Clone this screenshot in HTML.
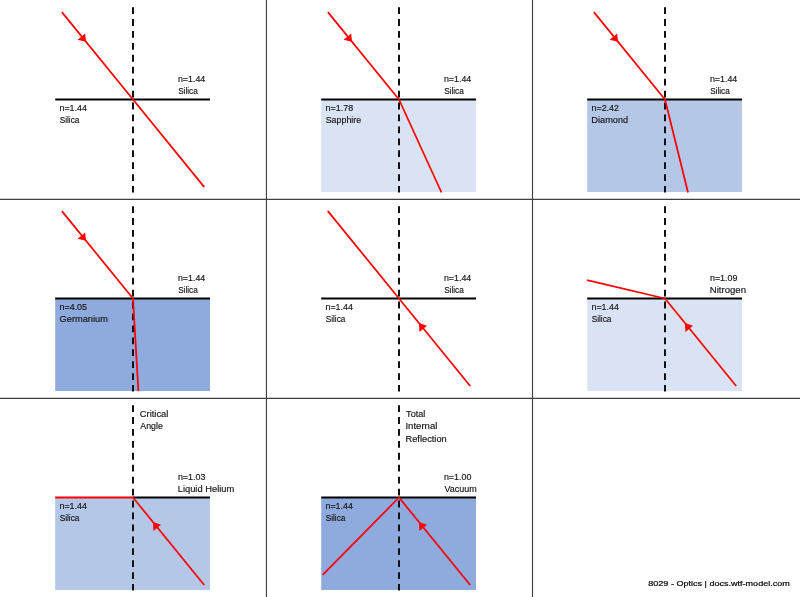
<!DOCTYPE html>
<html lang="en"><head><meta charset="utf-8"><title>Optics - Refraction</title>
<style>html,body{margin:0;padding:0;background:#fff;}body{width:800px;height:597px;overflow:hidden;font-family:"Liberation Sans",sans-serif;}svg{display:block;will-change:transform;}text{font-family:"Liberation Sans",sans-serif;fill:#141414;stroke:#141414;stroke-width:0.16;}</style>
</head><body>
<svg width="800" height="597" viewBox="0 0 800 597">
<rect x="0" y="0" width="800" height="597" fill="#ffffff"/>
<g stroke="#404040" stroke-width="1.15" fill="none">
<line x1="266.45" y1="0" x2="266.45" y2="597"/>
<line x1="532.5" y1="0" x2="532.5" y2="597"/>
<line x1="0" y1="199.4" x2="800" y2="199.4"/>
<line x1="0" y1="398.3" x2="800" y2="398.3"/>
</g>
<g><!-- panel c0 r0 -->
<text x="177.92" y="82.3" font-size="9.1" textLength="27.35" lengthAdjust="spacingAndGlyphs">n=1.44</text>
<text x="178.13" y="94.3" font-size="9.1" textLength="19.66" lengthAdjust="spacingAndGlyphs">Silica</text>
<text x="59.52" y="111.1" font-size="9.1" textLength="27.35" lengthAdjust="spacingAndGlyphs">n=1.44</text>
<text x="59.73" y="123.1" font-size="9.1" textLength="19.66" lengthAdjust="spacingAndGlyphs">Silica</text>
<line x1="133" y1="7.15" x2="133" y2="192.6" stroke="#111111" stroke-width="2" stroke-dasharray="6.8 5.13"/>
<line x1="55.2" y1="99.5" x2="210" y2="99.5" stroke="#000000" stroke-width="1.9"/>
<polyline points="61.9,12.1 133,99.5 204.3,187.1" fill="none" stroke="#ff0000" stroke-width="1.75" stroke-linejoin="round"/>
<polygon points="85.99,41.71 77.6,39.64 85.2,33.45" fill="#ff0000"/>
</g>
<g><!-- panel c1 r0 -->
<rect x="321.2" y="99.5" width="154.8" height="92.5" fill="#dae3f3"/>
<text x="443.92" y="82.3" font-size="9.1" textLength="27.35" lengthAdjust="spacingAndGlyphs">n=1.44</text>
<text x="444.13" y="94.3" font-size="9.1" textLength="19.66" lengthAdjust="spacingAndGlyphs">Silica</text>
<text x="325.51" y="111.1" font-size="9.1" textLength="27.68" lengthAdjust="spacingAndGlyphs">n=1.78</text>
<text x="325.7" y="123.1" font-size="9.1" textLength="35.49" lengthAdjust="spacingAndGlyphs">Sapphire</text>
<line x1="399" y1="7.15" x2="399" y2="192.6" stroke="#111111" stroke-width="2" stroke-dasharray="6.8 5.13"/>
<line x1="321.2" y1="99.5" x2="476" y2="99.5" stroke="#000000" stroke-width="1.9"/>
<polyline points="327.9,12.1 399,99.5 441.5,192.5" fill="none" stroke="#ff0000" stroke-width="1.75" stroke-linejoin="round"/>
<polygon points="351.99,41.71 343.6,39.64 351.2,33.45" fill="#ff0000"/>
</g>
<g><!-- panel c2 r0 -->
<rect x="587.2" y="99.5" width="154.8" height="92.5" fill="#b4c7e7"/>
<text x="709.92" y="82.3" font-size="9.1" textLength="27.35" lengthAdjust="spacingAndGlyphs">n=1.44</text>
<text x="710.13" y="94.3" font-size="9.1" textLength="19.66" lengthAdjust="spacingAndGlyphs">Silica</text>
<text x="591.51" y="111.1" font-size="9.1" textLength="27.43" lengthAdjust="spacingAndGlyphs">n=2.42</text>
<text x="591.35" y="123.1" font-size="9.1" textLength="36.84" lengthAdjust="spacingAndGlyphs">Diamond</text>
<line x1="665" y1="7.15" x2="665" y2="192.6" stroke="#111111" stroke-width="2" stroke-dasharray="6.8 5.13"/>
<line x1="587.2" y1="99.5" x2="742" y2="99.5" stroke="#000000" stroke-width="1.9"/>
<polyline points="593.9,12.1 665,99.5 688,192.5" fill="none" stroke="#ff0000" stroke-width="1.75" stroke-linejoin="round"/>
<polygon points="617.99,41.71 609.6,39.64 617.2,33.45" fill="#ff0000"/>
</g>
<g><!-- panel c0 r1 -->
<rect x="55.2" y="298.5" width="154.8" height="92.5" fill="#8faadc"/>
<text x="177.92" y="281.3" font-size="9.1" textLength="27.35" lengthAdjust="spacingAndGlyphs">n=1.44</text>
<text x="178.13" y="293.3" font-size="9.1" textLength="19.66" lengthAdjust="spacingAndGlyphs">Silica</text>
<text x="59.51" y="310.1" font-size="9.1" textLength="27.56" lengthAdjust="spacingAndGlyphs">n=4.05</text>
<text x="59.64" y="322.1" font-size="9.1" textLength="48.26" lengthAdjust="spacingAndGlyphs">Germanium</text>
<line x1="133" y1="206.15" x2="133" y2="391.6" stroke="#111111" stroke-width="2" stroke-dasharray="6.8 5.13"/>
<line x1="55.2" y1="298.5" x2="210" y2="298.5" stroke="#000000" stroke-width="1.9"/>
<polyline points="61.9,211.1 133,298.5 138.4,391.3" fill="none" stroke="#ff0000" stroke-width="1.75" stroke-linejoin="round"/>
<polygon points="85.99,240.71 77.6,238.64 85.2,232.45" fill="#ff0000"/>
</g>
<g><!-- panel c1 r1 -->
<text x="443.92" y="281.3" font-size="9.1" textLength="27.35" lengthAdjust="spacingAndGlyphs">n=1.44</text>
<text x="444.13" y="293.3" font-size="9.1" textLength="19.66" lengthAdjust="spacingAndGlyphs">Silica</text>
<text x="325.52" y="310.1" font-size="9.1" textLength="27.35" lengthAdjust="spacingAndGlyphs">n=1.44</text>
<text x="325.73" y="322.1" font-size="9.1" textLength="19.66" lengthAdjust="spacingAndGlyphs">Silica</text>
<line x1="399" y1="206.15" x2="399" y2="391.6" stroke="#111111" stroke-width="2" stroke-dasharray="6.8 5.13"/>
<line x1="321.2" y1="298.5" x2="476" y2="298.5" stroke="#000000" stroke-width="1.9"/>
<polyline points="470.2,386 399,298.5 327.7,210.9" fill="none" stroke="#ff0000" stroke-width="1.75" stroke-linejoin="round"/>
<polygon points="418.94,323.01 419.45,331.88 427.05,325.7" fill="#ff0000"/>
</g>
<g><!-- panel c2 r1 -->
<rect x="587.2" y="298.5" width="154.8" height="92.5" fill="#dae3f3"/>
<text x="709.91" y="281.3" font-size="9.1" textLength="27.61" lengthAdjust="spacingAndGlyphs">n=1.09</text>
<text x="709.71" y="293.3" font-size="9.1" textLength="36.3" lengthAdjust="spacingAndGlyphs">Nitrogen</text>
<text x="591.52" y="310.1" font-size="9.1" textLength="27.35" lengthAdjust="spacingAndGlyphs">n=1.44</text>
<text x="591.73" y="322.1" font-size="9.1" textLength="19.66" lengthAdjust="spacingAndGlyphs">Silica</text>
<line x1="665" y1="206.15" x2="665" y2="391.6" stroke="#111111" stroke-width="2" stroke-dasharray="6.8 5.13"/>
<line x1="587.2" y1="298.5" x2="742" y2="298.5" stroke="#000000" stroke-width="1.9"/>
<polyline points="736.2,386 665,298.5 587.1,280.2" fill="none" stroke="#ff0000" stroke-width="1.75" stroke-linejoin="round"/>
<polygon points="684.94,323.01 685.45,331.88 693.05,325.7" fill="#ff0000"/>
</g>
<g><!-- panel c0 r2 -->
<rect x="55.2" y="497.5" width="154.8" height="92.5" fill="#b4c7e7"/>
<text x="177.91" y="480.3" font-size="9.1" textLength="27.47" lengthAdjust="spacingAndGlyphs">n=1.03</text>
<text x="177.73" y="492.3" font-size="9.1" textLength="56.57" lengthAdjust="spacingAndGlyphs">Liquid Helium</text>
<text x="59.52" y="509.1" font-size="9.1" textLength="27.35" lengthAdjust="spacingAndGlyphs">n=1.44</text>
<text x="59.73" y="521.1" font-size="9.1" textLength="19.66" lengthAdjust="spacingAndGlyphs">Silica</text>
<text x="139.83" y="417.1" font-size="9.1" textLength="28.58" lengthAdjust="spacingAndGlyphs">Critical</text>
<text x="140.28" y="429.3" font-size="9.1" textLength="22.51" lengthAdjust="spacingAndGlyphs">Angle</text>
<line x1="133" y1="405.15" x2="133" y2="590.6" stroke="#111111" stroke-width="2" stroke-dasharray="6.8 5.13"/>
<line x1="133" y1="497.5" x2="210" y2="497.5" stroke="#000000" stroke-width="1.9"/>
<line x1="55.2" y1="497.5" x2="133.5" y2="497.5" stroke="#ff0000" stroke-width="1.95"/>
<polyline points="204.2,585 133,497.5" fill="none" stroke="#ff0000" stroke-width="1.75" stroke-linejoin="round"/>
<polygon points="152.94,522.01 153.45,530.88 161.05,524.7" fill="#ff0000"/>
</g>
<g><!-- panel c1 r2 -->
<rect x="321.2" y="497.5" width="154.8" height="92.5" fill="#8faadc"/>
<text x="443.91" y="480.3" font-size="9.1" textLength="27.53" lengthAdjust="spacingAndGlyphs">n=1.00</text>
<text x="444.46" y="492.3" font-size="9.1" textLength="32.32" lengthAdjust="spacingAndGlyphs">Vacuum</text>
<text x="325.52" y="509.1" font-size="9.1" textLength="27.35" lengthAdjust="spacingAndGlyphs">n=1.44</text>
<text x="325.73" y="521.1" font-size="9.1" textLength="19.66" lengthAdjust="spacingAndGlyphs">Silica</text>
<text x="406.1" y="417.1" font-size="9.1" textLength="19.2" lengthAdjust="spacingAndGlyphs">Total</text>
<text x="405.42" y="429.3" font-size="9.1" textLength="32.02" lengthAdjust="spacingAndGlyphs">Internal</text>
<text x="405.54" y="441.5" font-size="9.1" textLength="41.15" lengthAdjust="spacingAndGlyphs">Reflection</text>
<line x1="399" y1="405.15" x2="399" y2="590.6" stroke="#111111" stroke-width="2" stroke-dasharray="6.8 5.13"/>
<line x1="321.2" y1="497.5" x2="476" y2="497.5" stroke="#000000" stroke-width="1.9"/>
<polyline points="470.2,585 399,497.5 322.7,574.9" fill="none" stroke="#ff0000" stroke-width="1.75" stroke-linejoin="round"/>
<polygon points="418.94,522.01 419.45,530.88 427.05,524.7" fill="#ff0000"/>
</g>
<text x="648.31" y="585.7" font-size="8" textLength="141.48" lengthAdjust="spacingAndGlyphs" style="fill:#000;stroke:#000;stroke-width:0.2">8029 - Optics | docs.wtf-model.com</text>
</svg>
</body></html>
